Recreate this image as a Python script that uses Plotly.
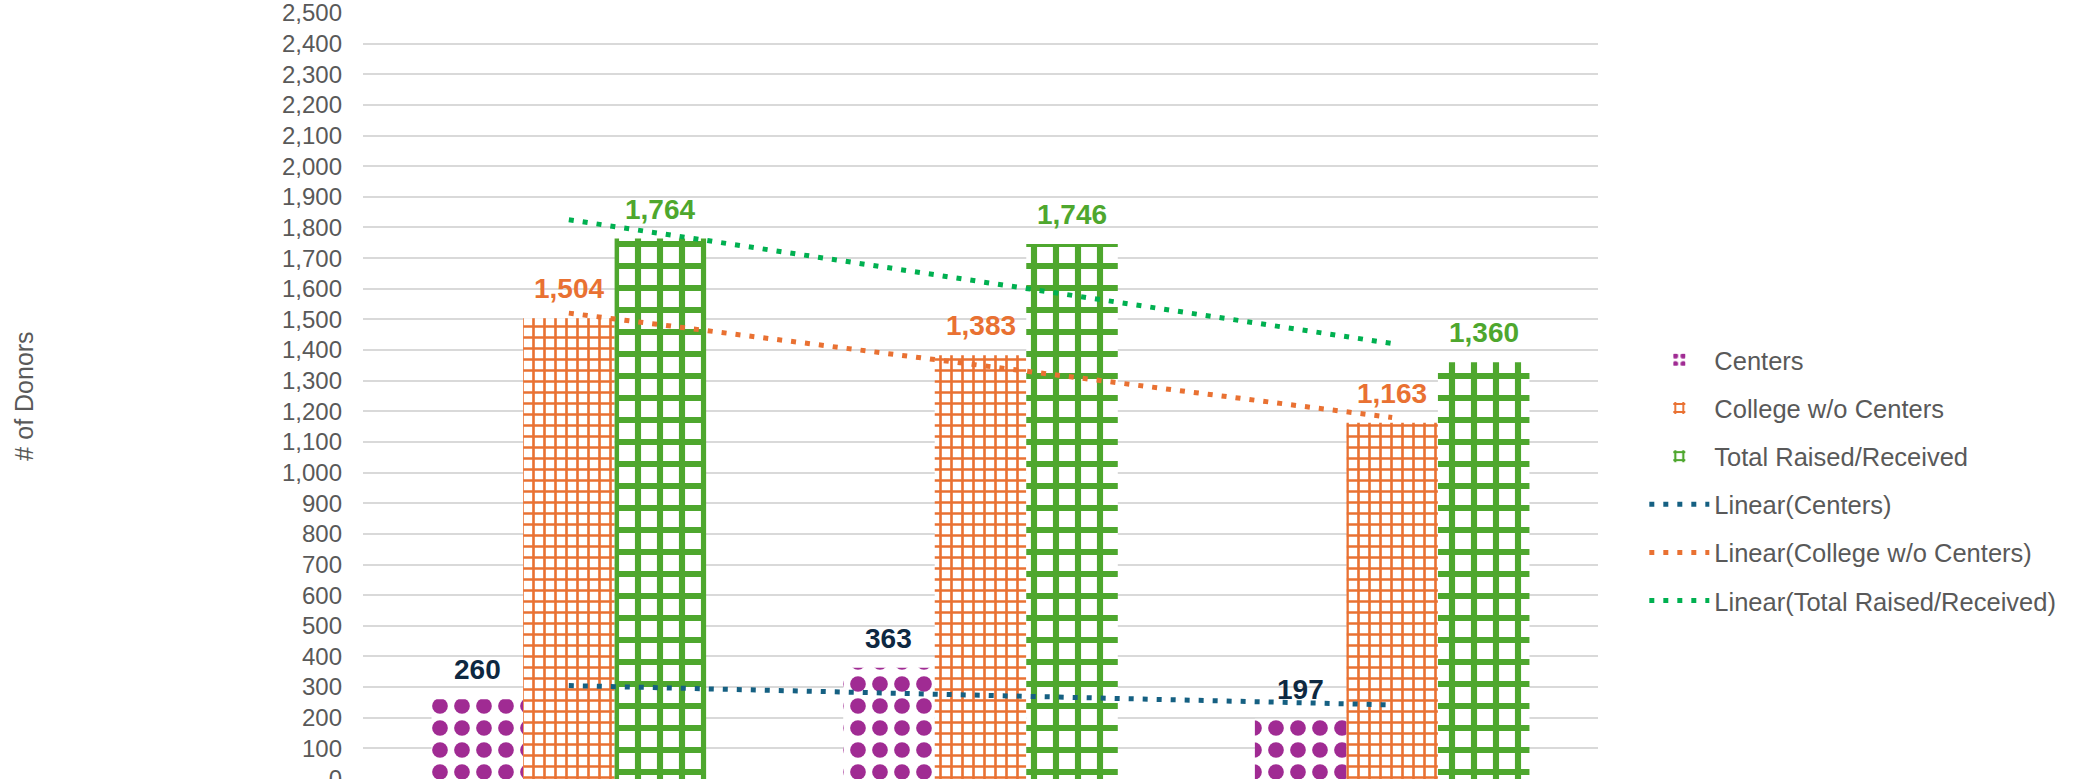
import numpy as np
import plotly.graph_objects as go

# ---------------- data ----------------
categories = ["Year 1", "Year 2", "Year 3"]
series_names = ["Centers", "College w/o Centers", "Total Raised/Received"]
centers = [260, 363, 197]
college = [1504, 1383, 1163]
total = [1764, 1746, 1360]
y_tick_values = list(range(0, 2501, 100))

# ---------------- styles ----------------
bar_colors = ["#A02B93", "#E97132", "#4EA72E"]
label_colors = ["#0E2841", "#E97132", "#4EA72E"]
trend_colors = ["#156082", "#E97132", "#00B050"]
patterns = [
    dict(shape=".", size=22, solidity=0.4),
    dict(shape="+", size=11, solidity=0.42),
    dict(shape="+", size=22, solidity=0.48),
]
FONT = "Liberation Sans, Arial, sans-serif"
GRAY = "#595959"

W, H = 2074, 779
ML, MR, MT, MB = 363, 476, 13, 0
BARGAP = 0.333
plot_w = W - ML - MR
bar_px = plot_w / len(categories) * (1 - BARGAP) / 3

fig = go.Figure()
all_series = [centers, college, total]
for name, vals, col, pat in zip(series_names, all_series, bar_colors, patterns):
    fig.add_trace(go.Bar(
        x=categories, y=vals, name=name,
        marker=dict(color="white", line=dict(width=0),
                    pattern=dict(fgcolor=col, bgcolor="white", fillmode="replace", **pat)),
        legendgroup=name,
    ))

xnum = np.arange(1, len(categories) + 1)
for name, vals, col in zip(series_names, all_series, trend_colors):
    slope, intercept = np.polyfit(xnum, np.array(vals, dtype=float), 1)
    trend = slope * xnum + intercept
    fig.add_trace(go.Scatter(
        x=categories, y=trend, mode="lines", name=f"Linear({name})",
        line=dict(color=col, width=5, dash="5px,9px"),
        legendgroup="t" + name, hoverinfo="skip",
    ))

# data labels
for i, (vals, col) in enumerate(zip(all_series, label_colors)):
    for cat, v in zip(categories, vals):
        fig.add_annotation(
            x=cat, y=v, xref="x", yref="y", text=f"{v:,}",
            showarrow=False, yanchor="bottom", xanchor="center",
            xshift=(i - 1) * bar_px, yshift=12,
            font=dict(family=FONT, size=28, color=col, weight="bold"),
        )

fig.update_layout(
    width=W, height=H, autosize=False,
    margin=dict(l=ML, r=MR, t=MT, b=MB, pad=0, autoexpand=False),
    paper_bgcolor="white", plot_bgcolor="white",
    barmode="group", bargap=BARGAP, bargroupgap=0,
    font=dict(family=FONT, color=GRAY),
    legend=dict(
        x=1.0375, xanchor="left", y=0.39, yanchor="middle",
        font=dict(size=25.5, color=GRAY, family=FONT),
        traceorder="grouped", tracegroupgap=12, itemwidth=60,
        bgcolor="rgba(0,0,0,0)",
    ),
    showlegend=True,
)
fig.update_xaxes(showticklabels=False, showgrid=False, zeroline=False, showline=False,
                 ticks="", automargin=False)
fig.update_yaxes(
    range=[0, 2500], tickvals=y_tick_values, tickformat=",",
    showgrid=True, gridcolor="#D9D9D9", gridwidth=2,
    zeroline=False, showline=False, ticks="",
    ticklabelstandoff=20, ticklabeloverflow="allow", automargin="left",
    tickfont=dict(size=24, color=GRAY, family=FONT),
    title=dict(text="# of Donors", font=dict(size=25, color=GRAY, family=FONT), standoff=241),
)

fig.write_html(
    "out.html",
    config={"displayModeBar": False},
    post_script="document.body.style.margin='0';document.body.style.overflow='hidden';",
)
